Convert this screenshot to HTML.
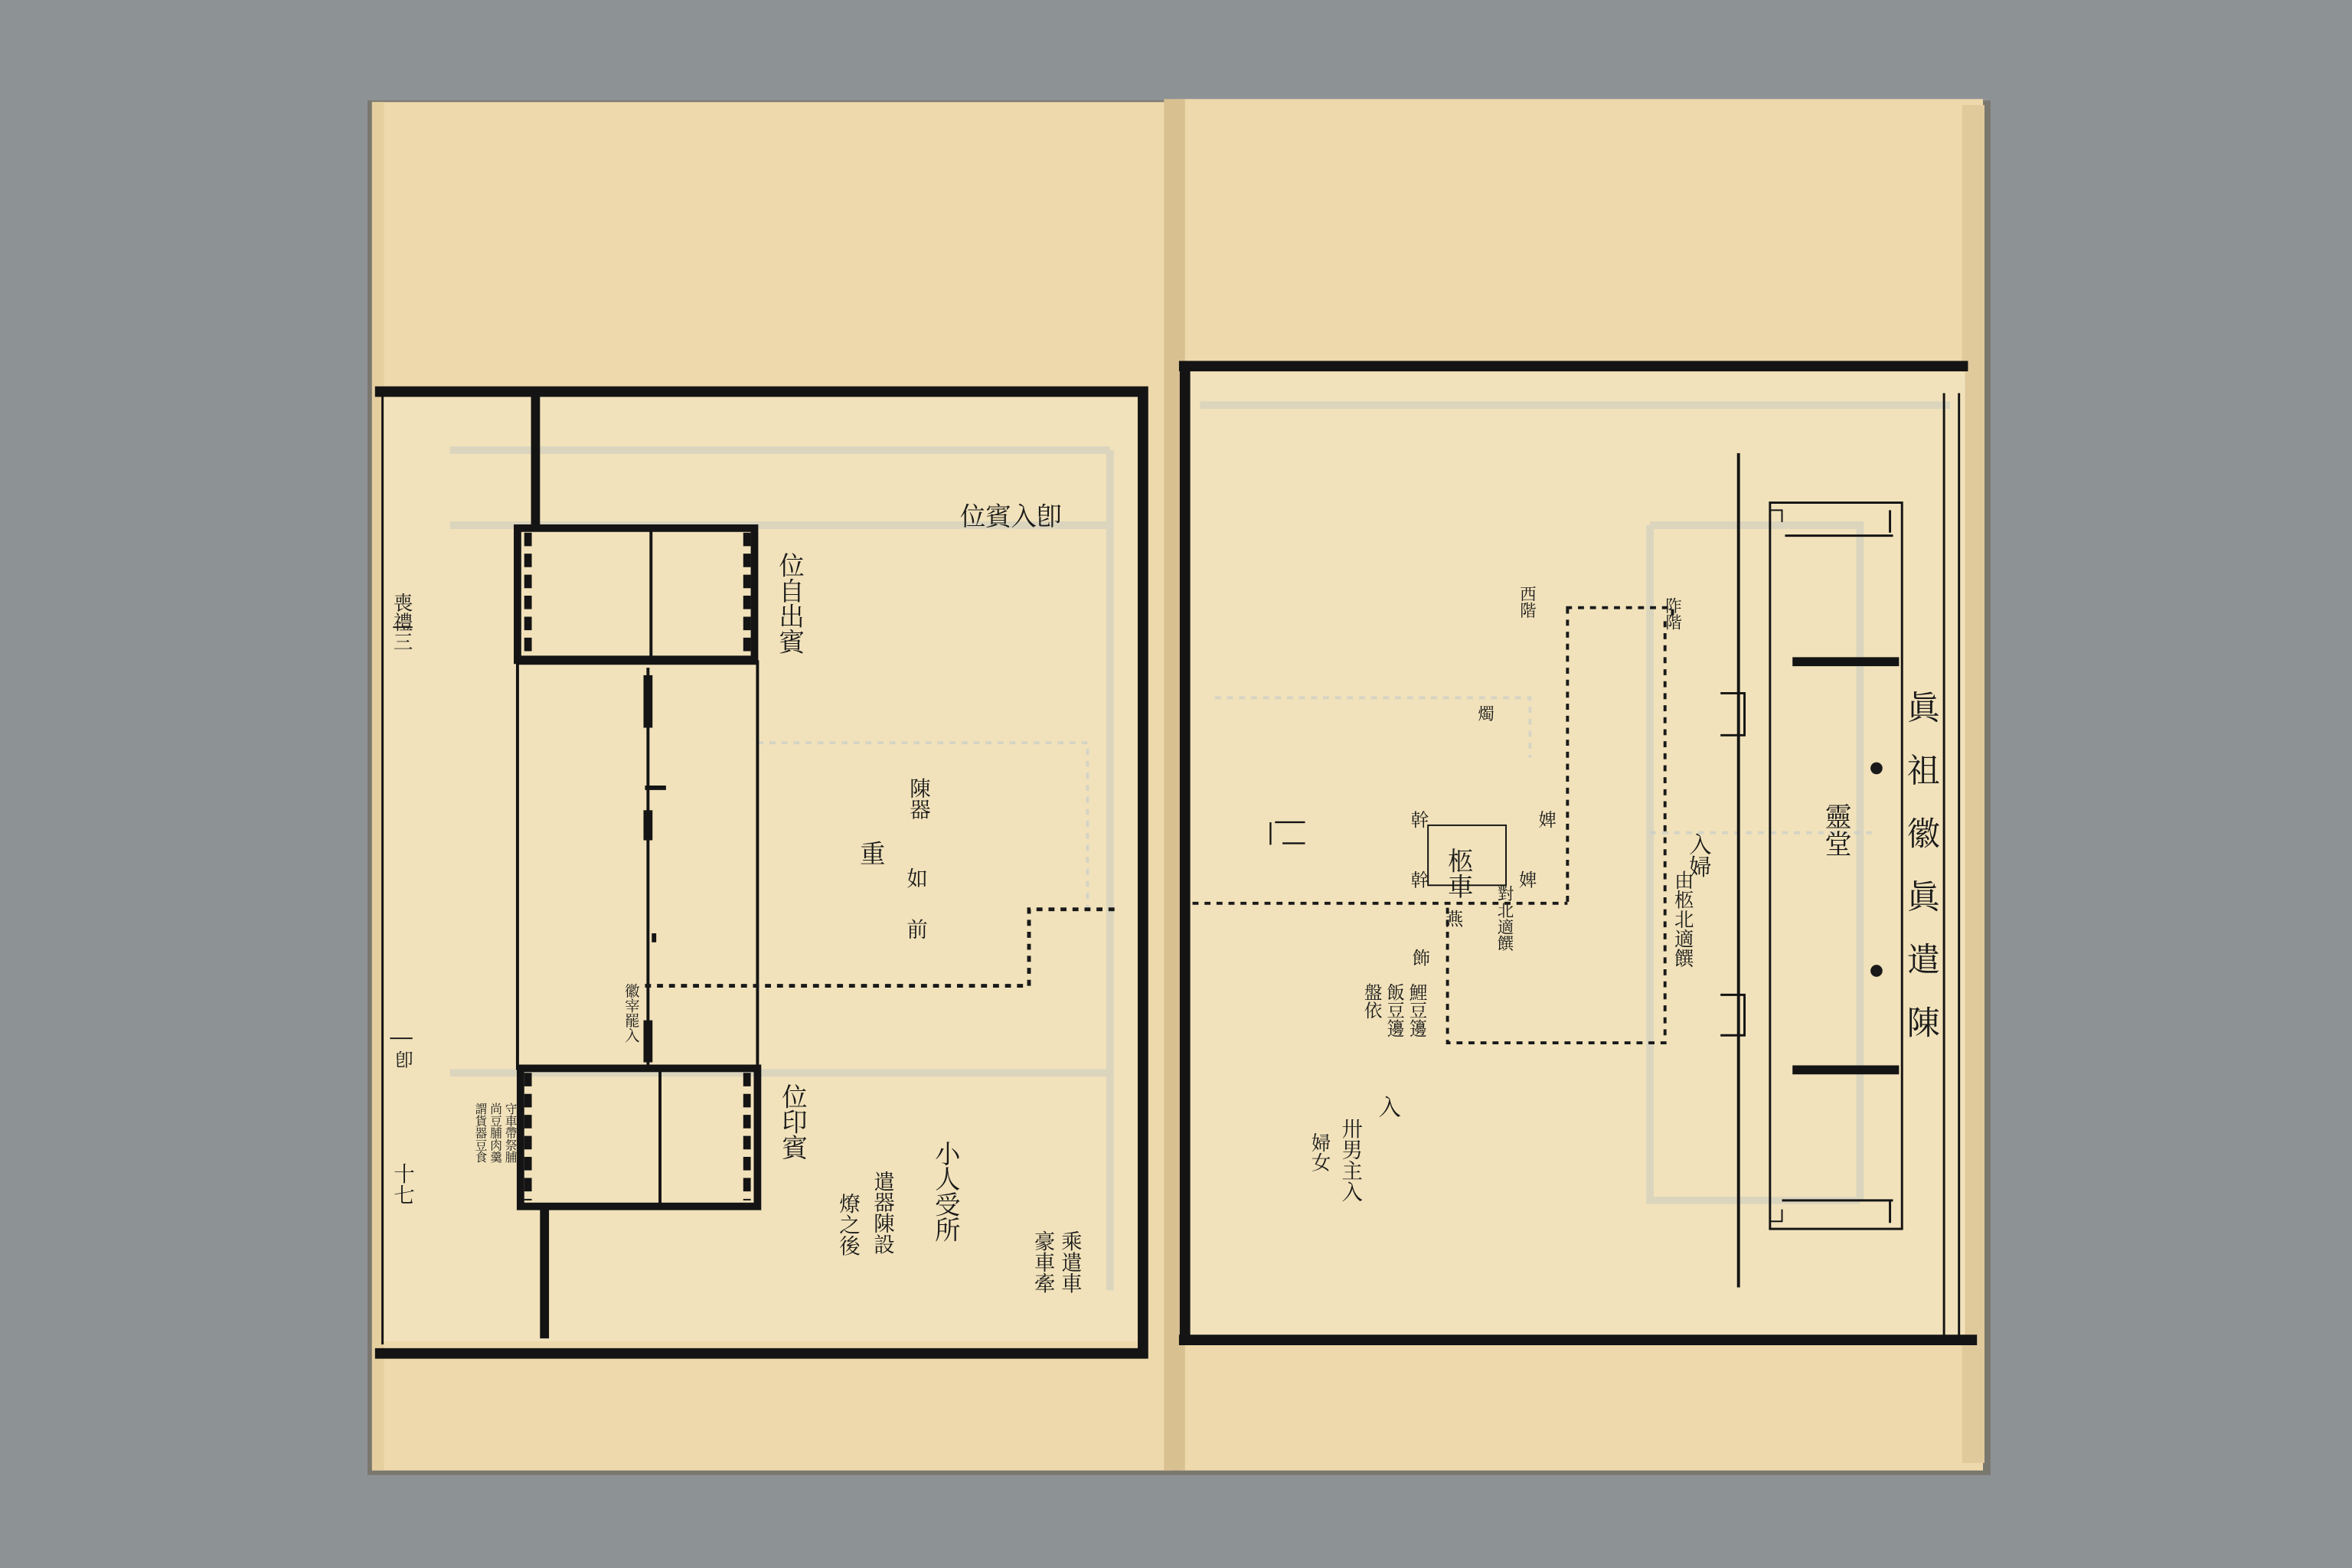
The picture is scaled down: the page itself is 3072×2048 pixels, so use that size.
<!DOCTYPE html>
<html><head><meta charset="utf-8"><style>
html,body{margin:0;padding:0;background:#8d9295;}
svg{display:block;}
text{font-family:"Liberation Serif","Noto Serif CJK SC","Noto Sans CJK TC",serif;fill:#1a1a1a;writing-mode:tb;}
</style></head><body>
<svg width="3072" height="2048" viewBox="0 0 1568 1045" preserveAspectRatio="none" xmlns="http://www.w3.org/2000/svg">
<rect width="1568" height="1045" fill="#8d9295"/>
<rect x="245" y="67" width="1082" height="916" fill="#7a776e"/>
<rect x="248" y="68" width="534" height="912" fill="#eed9ac"/>
<rect x="786" y="66" width="536" height="914" fill="#eed9ac"/>
<rect x="1308" y="70" width="15" height="905" fill="#e0c99b"/>
<rect x="248" y="68" width="8" height="912" fill="#e6cf9f"/>
<rect x="776" y="66" width="14" height="914" fill="#d8c090"/>
<rect x="256" y="262" width="502" height="632" fill="#f1e2bb"/>
<rect x="790" y="248" width="520" height="644" fill="#f1e2bb"/>
<g stroke="#bcc4c4" stroke-width="5" fill="none" opacity="0.4">
<path d="M300 350 H740 M300 715 H740 M740 300 V860 M300 300 H740"/>
<path d="M1100 350 H1240 V440 M1100 350 V800 H1240 M800 270 H1300 M1240 350 V800"/>
</g>
<g stroke="#c3cbcc" stroke-width="2" fill="none" stroke-dasharray="4 4" opacity="0.6">
<path d="M505 495 H725 V605 M810 465 H1020 V505 M1100 555 H1250"/>
</g>
<g fill="none" stroke="#141414">
<path d="M250 261 H762 V902 H250" stroke-width="7"/>
<path d="M255 262 V896" stroke-width="1.5"/>
<path d="M357 262 V352" stroke-width="6"/>
<path d="M363 805 V892" stroke-width="6"/>
<rect x="345" y="352" width="158" height="88" stroke-width="5"/>
<path d="M345 440 H505" stroke-width="6"/>
<path d="M345 440 V712 H505 V440" stroke-width="2"/>
<rect x="347" y="712" width="158" height="92" stroke-width="5"/>
<path d="M434 352 V440 M440 712 V804 M432 445 V712" stroke-width="2"/>
<path d="M432 450 V485 M432 540 V560 M432 680 V708" stroke-width="6"/>
<path d="M436 622 V628 M430 525 H444" stroke-width="3"/>
<path d="M352 355 V437 M498 355 V437 M352 715 V800 M498 715 V800" stroke-width="5" stroke-dasharray="9 5"/>
<path d="M260 692 H275 M262 418 H275" stroke-width="1"/>
</g>
<path d="M430 657 H686 V606 H746" fill="none" stroke="#1a1a1a" stroke-width="2.5" stroke-dasharray="4 4"/>
<g fill="none" stroke="#141414">
<path d="M786 244 H1312 M786 893 H1318 M790 244 V893" stroke-width="7"/>
<path d="M1306 262 V890 M1296 262 V890" stroke-width="1.5"/>
<path d="M1159 302 V858" stroke-width="2"/>
<rect x="1180" y="335" width="88" height="484" stroke-width="1.5"/>
<path d="M1195 441 H1266 M1195 713 H1266" stroke-width="6"/>
<path d="M1190 357 H1262 M1188 800 H1262 M1260 340 V355 M1260 800 V815" stroke-width="1.5"/>
<path d="M1180 340 H1188 V348 M1180 814 H1188 V806" stroke-width="1"/>
<path d="M1147 462 H1163 V490 H1147 M1147 663 H1163 V690 H1147" stroke-width="1.5"/>
<rect x="952" y="550" width="52" height="40" stroke-width="1"/>
<path d="M850 548 H870 M855 562 H870 M847 563 V548" stroke-width="1.2"/>
</g>
<circle cx="1251" cy="512" r="4" fill="#1a1a1a"/>
<circle cx="1251" cy="647" r="4" fill="#1a1a1a"/>
<g fill="none" stroke="#1a1a1a" stroke-width="2" stroke-dasharray="4 4">
<path d="M1044 405 H1115 V411 M1045 405 V605 M965 605 V695 H1110 V411"/>
<path d="M795 602 H1045"/>
</g>
<g font-size="17">
<text x="640" y="350" style="writing-mode:lr">位賓入卽</text>
<text x="526" y="368">位自出賓</text>
<text x="612" y="518" font-size="14">陳器</text>
<text x="610" y="578" font-size="14">如</text>
<text x="610" y="612" font-size="14">前</text>
<text x="580" y="560">重</text>
<text x="420" y="655" font-size="10">徽宰罷入</text>
<text x="528" y="722">位印賓</text>
<text x="630" y="760">小人受所</text>
<text x="588" y="780" font-size="14">遣器陳設</text>
<text x="565" y="795" font-size="14">燎之後</text>
<text x="713" y="820" font-size="14">乘遣車</text>
<text x="695" y="820" font-size="14">豪車牽</text>
<text x="268" y="395" font-size="13">喪禮三</text>
<text x="268" y="700" font-size="12">卽</text>
<text x="268" y="775" font-size="14">十七</text>
</g>
<g font-size="8">
<text x="340" y="735">守車帶祭脯</text>
<text x="330" y="735">尚豆脯肉羹</text>
<text x="320" y="735">謂貨器豆食</text>
</g>
<g font-size="20">
<text x="1280" y="460" font-size="22" letter-spacing="20">眞祖徽眞遣陳</text>
<text x="1224" y="535" font-size="18">靈堂</text>
<text x="1132" y="555" font-size="15">入婦</text>
<text x="1122" y="580" font-size="13">由柩北適饌</text>
<text x="972" y="565" font-size="17">柩車</text>
<text x="1030" y="540" font-size="12">婢</text>
<text x="1017" y="580" font-size="12">婢</text>
<text x="1003" y="590" font-size="11">對北適饌</text>
<text x="945" y="540" font-size="12">幹</text>
<text x="945" y="580" font-size="12">幹</text>
<text x="968" y="606" font-size="12">燕</text>
<text x="946" y="632" font-size="12">飾</text>
<text x="944" y="655" font-size="12">鯉豆籩</text>
<text x="929" y="655" font-size="12">飯豆籩</text>
<text x="914" y="655" font-size="12">盤依</text>
<text x="925" y="730" font-size="15">入</text>
<text x="900" y="745" font-size="14">卅男主入</text>
<text x="880" y="755" font-size="13">婦女</text>
<text x="1115" y="398" font-size="11">阼階</text>
<text x="1018" y="390" font-size="11">西階</text>
<text x="990" y="470" font-size="11">燭</text>
</g>
</svg>
</body></html>
